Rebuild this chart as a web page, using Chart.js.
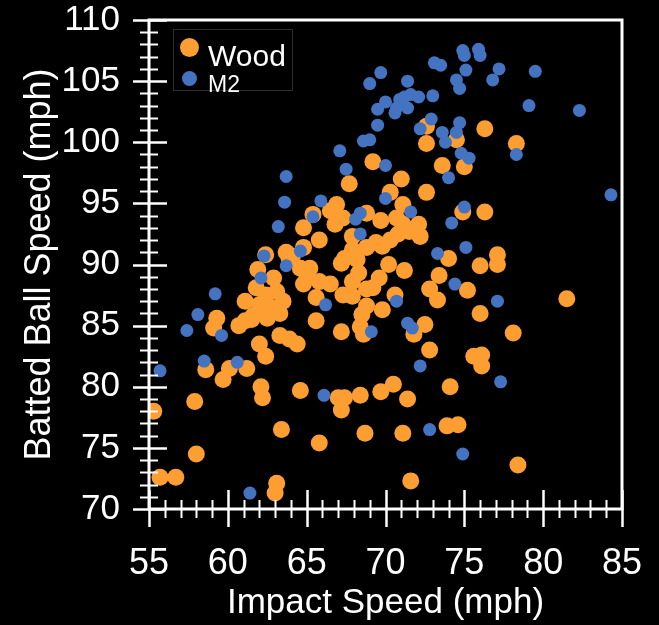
<!DOCTYPE html>
<html>
<head>
<meta charset="utf-8">
<title>Batted Ball Speed vs Impact Speed</title>
<script src="https://cdn.jsdelivr.net/npm/chart.js@4.4.1/dist/chart.umd.min.js"></script>
<style>
  html, body { margin: 0; padding: 0; background: #000; }
  canvas { display: block; }
</style>
</head>
<body>
<canvas id="speedChart" width="659" height="625"></canvas>
<script>
// Wood bat: impact speed (mph) and batted ball speed (mph)
const woodImpact = [
  69.2, 67.7, 72.6, 76.3, 72.6, 74.5, 78.3, 73.6, 75.0, 71.0,
  70.3, 72.6, 71.1, 74.9, 76.3, 66.9, 66.5, 67.3, 66.8, 65.4,
  68.8, 69.7, 70.7, 71.1, 70.8, 70.3, 71.5, 72.1, 72.2, 64.8,
  67.9, 65.8, 69.4, 68.8, 69.8, 67.9, 67.4, 64.8, 63.7, 64.1,
  62.4, 67.2, 68.2, 68.3, 67.9, 70.2, 71.2, 69.6, 69.2, 68.8,
  66.5, 67.3, 67.9, 70.6, 68.8, 68.5, 69.8, 67.2, 68.4, 68.6,
  71.8, 61.9, 62.9, 63.9, 64.6, 65.2, 65.0, 64.8, 65.8, 65.6,
  61.1, 61.8, 62.4, 63.1, 63.5, 62.7, 63.3, 62.5, 62.0, 61.6,
  61.1, 65.6, 63.3, 63.9, 64.4, 62.0, 74.0, 77.1, 77.1, 76.0,
  73.4, 72.8, 73.3, 75.2, 81.5, 76.0, 72.5, 78.1, 59.3, 59.1,
  60.7, 61.5, 62.4, 58.6, 60.1, 61.2, 59.7, 62.1, 62.2, 64.6,
  67.0, 67.4, 67.2, 68.4, 69.7, 57.9, 55.3, 63.4, 65.8, 68.7,
  58.0, 55.7, 56.7, 63.1, 63.0, 72.8, 75.6, 76.1, 76.1, 70.5,
  74.1, 71.4, 71.1, 73.9, 74.6, 78.4, 71.6
];
const woodBatted = [
  98.4, 96.6, 101.3, 101.1, 99.9, 100.2, 99.9, 98.1, 98.0, 97.0,
  95.9, 95.9, 94.9, 94.3, 94.3, 94.9, 94.4, 93.8, 93.3, 94.1,
  94.2, 93.6, 93.8, 93.3, 92.5, 92.0, 92.7, 93.3, 92.3, 93.0,
  92.3, 92.0, 91.8, 91.4, 91.5, 91.2, 90.5, 91.4, 91.0, 90.7,
  90.8, 90.1, 90.4, 89.3, 88.6, 90.0, 89.5, 88.9, 88.1, 88.0,
  88.4, 87.5, 87.4, 87.5, 86.6, 85.9, 86.3, 84.5, 84.9, 84.3,
  84.3, 89.6, 88.9, 90.4, 89.7, 89.7, 89.2, 88.4, 88.6, 87.3,
  87.0, 88.1, 87.5, 87.8, 87.0, 86.5, 86.0, 85.6, 86.7, 85.8,
  85.4, 85.4, 84.2, 83.9, 83.5, 83.5, 90.5, 90.8, 90.0, 89.9,
  89.1, 88.0, 87.1, 87.9, 87.2, 86.0, 85.1, 84.4, 85.6, 84.8,
  85.0, 85.5, 82.5, 81.4, 81.5, 81.5, 80.6, 80.0, 79.1, 79.7,
  79.1, 79.1, 78.1, 79.3, 79.6, 78.8, 78.0, 76.5, 75.4, 76.2,
  74.5, 72.6, 72.6, 72.1, 71.3, 83.0, 82.5, 82.6, 81.7, 80.2,
  80.0, 79.0, 76.2, 76.8, 76.9, 73.6, 72.3
];

// M2 bat
const m2Impact = [
  69.7, 69.0, 70.0, 69.5, 69.5, 68.6, 69.0, 67.1, 70.0, 67.5,
  63.7, 74.9, 75.0, 75.9, 76.0, 73.1, 73.5, 75.1, 77.2, 79.5,
  71.4, 74.5, 74.7, 76.8, 73.0, 70.9, 71.2, 71.6, 72.1, 70.6,
  71.4, 70.7, 79.1, 82.3, 72.9, 72.2, 74.7, 74.5, 73.6, 73.8,
  78.3, 74.8, 75.3, 74.0, 63.6, 65.9, 70.0, 65.4, 68.4, 68.1,
  63.2, 68.4, 64.6, 62.3, 63.7, 62.1, 59.2, 66.2, 58.1, 57.4,
  59.6, 69.1, 84.3, 75.0, 71.6, 74.2, 75.1, 73.3, 74.4, 70.7,
  77.1, 71.4, 71.7, 58.5, 60.6, 55.7, 66.1, 61.4, 72.2, 77.3,
  72.8, 74.9
];
const m2Batted = [
  105.7, 104.8, 103.3, 102.7, 101.4, 100.1, 100.2, 99.3, 98.1, 97.8,
  97.2, 107.5, 107.1, 107.6, 107.1, 106.5, 106.3, 105.9, 106.0, 105.8,
  105.0, 105.1, 104.4, 105.1, 103.8, 103.5, 103.7, 103.9, 103.7, 102.4,
  102.8, 102.8, 103.0, 102.6, 101.9, 101.1, 101.6, 100.8, 100.8, 100.0,
  99.0, 99.1, 98.7, 97.1, 95.1, 95.2, 95.4, 93.9, 94.2, 93.7,
  93.1, 92.5, 91.1, 90.7, 89.9, 88.9, 87.6, 86.7, 85.9, 84.6,
  84.2, 84.5, 95.7, 94.7, 94.3, 93.4, 91.4, 90.9, 88.4, 87.0,
  87.0, 85.2, 84.8, 82.1, 82.0, 81.3, 79.3, 71.3, 81.7, 80.4,
  76.5, 74.5
];

// Axis tick labels
const xTicks = [55, 60, 65, 70, 75, 80, 85];
const yTicks = [70, 75, 80, 85, 90, 95, 100, 105, 110];

const ORANGE = '#FD9E33';
const BLUE = '#4473C2';

Chart.defaults.font.family = "'Liberation Sans', Arial, Helvetica, sans-serif";
Chart.defaults.color = '#ffffff';

function toPoints(xs, ys) {
  return xs.map((x, i) => ({ x: x, y: ys[i] }));
}

// Box frame with ticks crossing the left and bottom axes
const frameTicksPlugin = {
  id: 'frameTicks',
  afterDatasetsDraw(chart) {
    const { ctx, chartArea: area, scales } = chart;
    const x = scales.x;
    const y = scales.y;
    ctx.save();
    ctx.strokeStyle = '#ffffff';
    ctx.lineCap = 'butt';

    // minor + major ticks on the bottom axis
    for (let v = x.min; v <= x.max; v++) {
      const px = Math.round(x.getPixelForValue(v)) + 0.5;
      const major = xTicks.includes(v);
      ctx.lineWidth = major ? 2.5 : 2;
      ctx.beginPath();
      ctx.moveTo(px, area.bottom - (major ? 19 : 9));
      ctx.lineTo(px, area.bottom + (major ? 18 : 9));
      ctx.stroke();
    }

    // minor + major ticks on the left axis
    for (let v = y.min; v <= y.max; v++) {
      const py = Math.round(y.getPixelForValue(v)) + 0.5;
      const major = yTicks.includes(v);
      ctx.lineWidth = major ? 2.5 : 2;
      ctx.beginPath();
      ctx.moveTo(area.left - (major ? 16 : 9), py);
      ctx.lineTo(area.left + (major ? 18 : 9), py);
      ctx.stroke();
    }

    // frame
    ctx.lineWidth = 3;
    ctx.strokeRect(area.left, area.top, area.right - area.left, area.bottom - area.top);
    ctx.restore();
  }
};

// Legend inside the top-left corner, marker and text sized per series
const boxLegendPlugin = {
  id: 'boxLegend',
  afterDraw(chart, args, opts) {
    const { ctx, chartArea: area } = chart;
    const bx = area.left + 24;
    const by = area.top + 9;
    ctx.save();
    ctx.strokeStyle = '#2e2e2e';
    ctx.lineWidth = 1;
    ctx.strokeRect(bx + 0.5, by + 0.5, 119, 61);

    chart.data.datasets.forEach((ds, i) => {
      const cy = by + opts.rows[i];
      ctx.fillStyle = ds.backgroundColor;
      ctx.beginPath();
      ctx.arc(bx + 16.5, cy, ds.pointRadius + 1, 0, Math.PI * 2);
      ctx.fill();

      ctx.fillStyle = '#ffffff';
      ctx.font = opts.sizes[i] + 'px ' + Chart.defaults.font.family;
      ctx.textBaseline = 'alphabetic';
      ctx.textAlign = 'left';
      ctx.fillText(ds.label, bx + 35, cy + opts.baselines[i]);
    });
    ctx.restore();
  }
};

const config = {
  type: 'scatter',
  data: {
    datasets: [
      {
        label: 'Wood',
        data: toPoints(woodImpact, woodBatted),
        backgroundColor: ORANGE,
        borderWidth: 0,
        pointRadius: 8.5,
        order: 1
      },
      {
        label: 'M2',
        data: toPoints(m2Impact, m2Batted),
        backgroundColor: BLUE,
        borderWidth: 0,
        pointRadius: 6.5,
        order: 0
      }
    ]
  },
  options: {
    responsive: false,
    animation: false,
    layout: {
      padding: { top: 20, right: 37, left: 0, bottom: 0 }
    },
    plugins: {
      legend: { display: false },
      tooltip: { enabled: false },
      boxLegend: {
        rows: [18.5, 49.5],
        baselines: [18, 13.5],
        sizes: [30, 23]
      }
    },
    scales: {
      x: {
        type: 'linear',
        min: 55,
        max: 85,
        grid: { display: false },
        border: { display: false },
        afterBuildTicks: scale => { scale.ticks = xTicks.map(v => ({ value: v })); },
        afterFit: scale => {
          scale.height = 116;
          scale.paddingLeft = 0;
          scale.paddingRight = 0;
        },
        ticks: {
          color: '#ffffff',
          padding: 25,
          font: { size: 36 }
        },
        title: {
          display: true,
          text: 'Impact Speed (mph)',
          color: '#ffffff',
          font: { size: 35 },
          padding: { top: 0, bottom: 1 }
        }
      },
      y: {
        type: 'linear',
        min: 70,
        max: 110,
        grid: { display: false },
        border: { display: false },
        afterBuildTicks: scale => { scale.ticks = yTicks.map(v => ({ value: v })); },
        afterFit: scale => {
          scale.width = 149;
          scale.paddingTop = 0;
          scale.paddingBottom = 0;
        },
        ticks: {
          color: '#ffffff',
          padding: 21,
          font: { size: 35 }
        },
        title: {
          display: true,
          text: 'Batted Ball Speed (mph)',
          color: '#ffffff',
          font: { size: 36 },
          padding: { top: 18, bottom: 0 }
        }
      }
    }
  },
  plugins: [frameTicksPlugin, boxLegendPlugin]
};

const chart = new Chart(document.getElementById('speedChart'), config);
</script>
</body>
</html>
